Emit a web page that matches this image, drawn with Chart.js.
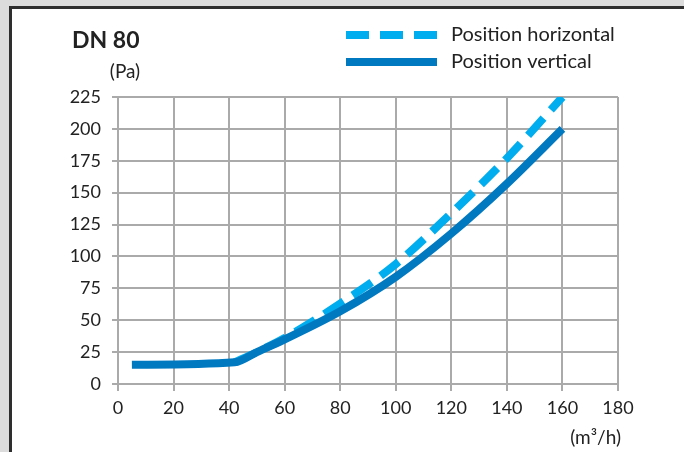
<!DOCTYPE html>
<html>
<head>
<meta charset="utf-8">
<title>DN 80</title>
<script src="https://cdn.jsdelivr.net/npm/chart.js@4.4.1/dist/chart.umd.min.js"></script>
<style>
  html, body { margin: 0; padding: 0; background: #dcdcdc; }
  #frame {
    position: absolute; left: 9px; top: 6px; width: 675px; height: 446px;
    background: #fff; border-left: 3px solid #2e2e2e; border-top: 3px solid #2e2e2e;
    box-sizing: border-box;
  }
  #wrap { position: absolute; left: 0; top: 0; width: 684px; height: 452px; }
</style>
</head>
<body>
<div id="frame"></div>
<div id="wrap"><canvas id="dnChart" width="684" height="452"></canvas></div>
<script>
// Druckverlust DN 80, Volumenstrom (m³/h) gegen Druck (Pa)
const flowHorizontal = [42, 50, 60, 80, 100, 120, 140, 160];
const pressureHorizontal = [17, 25, 36, 63, 94, 134, 177, 225];

const flowVertical = [5, 42, 50, 60, 80, 100, 120, 140, 160];
const pressureVertical = [15, 17, 25, 35, 57, 84, 118, 157, 200];

const xTicks = [0, 20, 40, 60, 80, 100, 120, 140, 160, 180];
const yTicks = [0, 25, 50, 75, 100, 125, 150, 175, 200, 225];

const seriesLabels = ['Position horizontal', 'Position vertical'];

const FONT = 'Lato, "Open Sans", sans-serif';
const TEXT = '#222222';
const GRID = '#aaaaaa';

function toPoints(xs, ys) {
    return xs.map((x, i) => ({ x: x, y: ys[i] }));
}

// Titel, Einheiten und Legende mit Linienmuster
const chartTexts = {
    id: 'chartTexts',
    afterDraw(chart) {
        const ctx = chart.ctx;
        ctx.save();
        ctx.fillStyle = TEXT;
        ctx.textBaseline = 'middle';

        ctx.font = 'bold 23px ' + FONT;
        ctx.textAlign = 'left';
        ctx.fillText('DN 80', 72, 41);

        ctx.font = '19px ' + FONT;
        ctx.textAlign = 'center';
        ctx.fillText('(Pa)', 125, 72);

        ctx.textAlign = 'right';
        ctx.fillText('(m³/h)', 621, 438);

        ctx.font = '20px ' + FONT;
        ctx.textAlign = 'left';
        chart.data.datasets.forEach((ds, i) => {
            const y = 35 + i * 27;
            ctx.strokeStyle = ds.borderColor;
            ctx.lineWidth = 8;
            ctx.lineCap = 'butt';
            ctx.setLineDash(ds.borderDash || []);
            ctx.beginPath();
            ctx.moveTo(346, y);
            ctx.lineTo(437, y);
            ctx.stroke();
            ctx.fillText(ds.label, 451, y);
        });
        ctx.restore();
    }
};

const ctx = document.getElementById('dnChart').getContext('2d');
new Chart(ctx, {
    type: 'line',
    data: {
        datasets: [
            {
                label: seriesLabels[0],
                data: toPoints(flowHorizontal, pressureHorizontal),
                borderColor: '#00adef',
                borderWidth: 8,
                borderDash: [23, 11],
                pointRadius: 0,
                fill: false,
                cubicInterpolationMode: 'monotone',
                order: 2
            },
            {
                label: seriesLabels[1],
                data: toPoints(flowVertical, pressureVertical),
                borderColor: '#0079c1',
                borderWidth: 8,
                pointRadius: 0,
                fill: false,
                cubicInterpolationMode: 'monotone',
                order: 1
            }
        ]
    },
    options: {
        responsive: false,
        animation: false,
        layout: { padding: { left: 0, right: 66, top: 97, bottom: 0 } },
        plugins: {
            legend: { display: false },
            title: { display: false },
            tooltip: { enabled: false }
        },
        scales: {
            x: {
                type: 'linear',
                min: xTicks[0],
                max: xTicks[xTicks.length - 1],
                afterBuildTicks: scale => { scale.ticks = xTicks.map(v => ({ value: v })); },
                afterFit: scale => { scale.height = 68; },
                grid: { color: GRID, lineWidth: 2, tickLength: 7 },
                border: { color: GRID, width: 2 },
                ticks: {
                    color: TEXT,
                    padding: 6,
                    maxRotation: 0,
                    font: { family: FONT, size: 18 }
                }
            },
            y: {
                min: yTicks[0],
                max: yTicks[yTicks.length - 1],
                afterBuildTicks: scale => { scale.ticks = yTicks.map(v => ({ value: v })); },
                afterFit: scale => { scale.width = 118; },
                grid: { color: GRID, lineWidth: 2, tickLength: 6 },
                border: { color: GRID, width: 2 },
                ticks: {
                    color: TEXT,
                    padding: 11,
                    font: { family: FONT, size: 18 }
                }
            }
        }
    },
    plugins: [chartTexts]
});
</script>
</body>
</html>
